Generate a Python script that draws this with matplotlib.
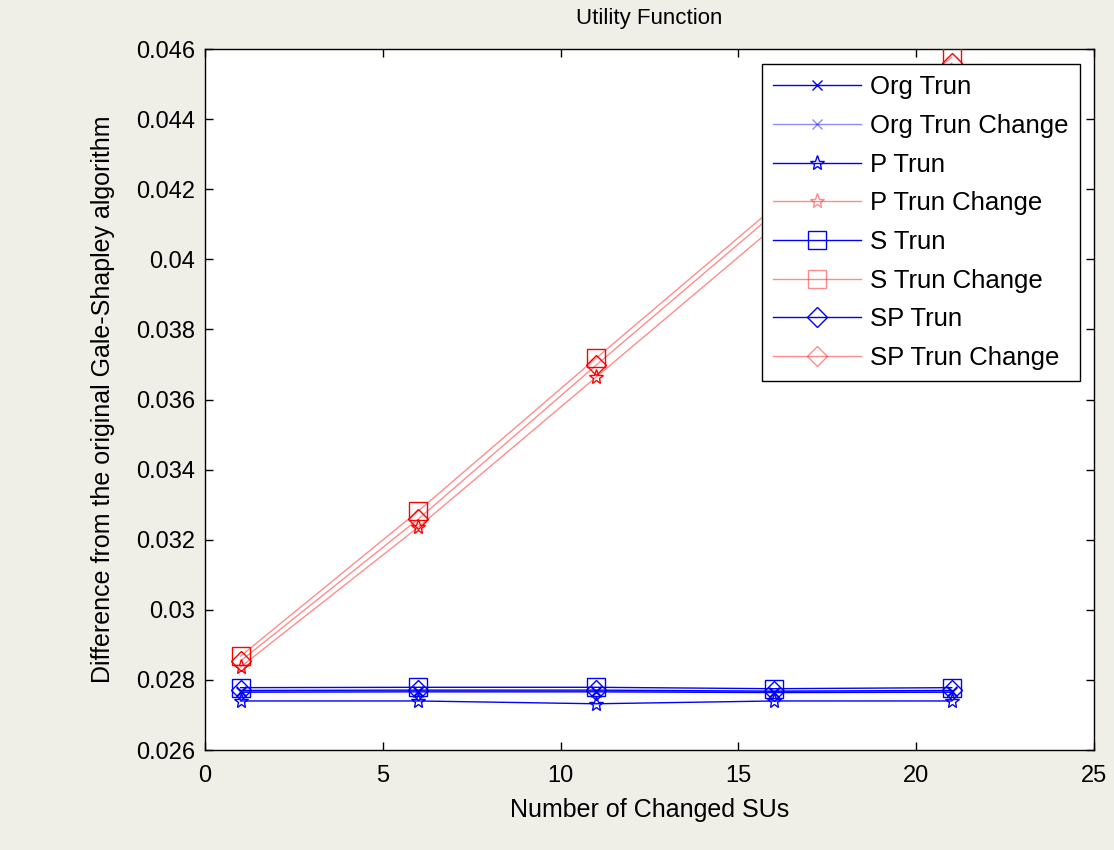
import matplotlib
matplotlib.use('Agg')
import matplotlib.pyplot as plt
from matplotlib.ticker import FuncFormatter
from matplotlib.lines import Line2D

# ---- data ----
x_sus = [1, 6, 11, 16, 21]

org_trun        = [0.02765, 0.02766, 0.02766, 0.02764, 0.02765]
org_trun_change = [0.02768, 0.02769, 0.02768, 0.02767, 0.02768]
p_trun          = [0.02740, 0.02740, 0.02732, 0.02740, 0.02740]
p_trun_change   = [0.02837, 0.03236, 0.03664, 0.04092, 0.04530]
s_trun          = [0.02778, 0.02779, 0.02779, 0.02775, 0.02778]
s_trun_change   = [0.02868, 0.03282, 0.03718, 0.04148, 0.04577]
sp_trun         = [0.02770, 0.02771, 0.02771, 0.02768, 0.02770]
sp_trun_change  = [0.02854, 0.03259, 0.03698, 0.04130, 0.04560]

series = [
    ("Org Trun",        org_trun,        'blue', 'x', 7,  False),
    ("Org Trun Change", org_trun_change, 'blue', 'x', 7,  True),
    ("P Trun",          p_trun,          'blue', '*', 11, False),
    ("P Trun Change",   p_trun_change,   'red',  '*', 11, True),
    ("S Trun",          s_trun,          'blue', 's', 13, False),
    ("S Trun Change",   s_trun_change,   'red',  's', 13, True),
    ("SP Trun",         sp_trun,         'blue', 'D', 10, False),
    ("SP Trun Change",  sp_trun_change,  'red',  'D', 10, True),
]

plt.rcParams['font.family'] = ['Liberation Sans', 'DejaVu Sans']

fig = plt.figure(figsize=(11.14, 8.5), dpi=100, facecolor='#efefe7')
ax = fig.add_axes([0.184, 0.1176, 0.798, 0.8247])
ax.set_facecolor('white')

for name, vals, col, mk, ms, change in series:
    # "Change" runs drawn with a lighter line, like the reference
    line_alpha = 0.45 if change else 1.0
    ax.plot(x_sus, vals, color=col, lw=1.0, alpha=line_alpha, zorder=2)
    ax.plot(x_sus, vals, linestyle='none', marker=mk, markersize=ms,
            markerfacecolor='none', markeredgecolor=col, markeredgewidth=1.0,
            zorder=3)

# legend handles: line + hollow marker
handles = []
for name, vals, col, mk, ms, change in series:
    h = Line2D([0], [0], color=col, lw=1.0, marker=mk, markersize=ms,
               markerfacecolor='none', markeredgecolor=col,
               markeredgewidth=1.0)
    handles.append(h)

leg = ax.legend(handles, [s[0] for s in series], loc='upper right',
                bbox_to_anchor=(0.984, 0.979), fontsize=18.5, frameon=True,
                fancybox=False, shadow=False, framealpha=1.0,
                edgecolor='black', handlelength=3.4, handletextpad=0.35,
                labelspacing=0.57, borderpad=0.45, borderaxespad=0.0)
leg.get_frame().set_linewidth(1.0)
leg.set_zorder(10)
for h, s in zip(leg.get_lines(), series):
    if s[5]:
        h.set_alpha(0.45)

ax.set_xlim(0, 25)
ax.set_ylim(0.026, 0.046)
ax.set_xticks([0, 5, 10, 15, 20, 25])
ax.set_yticks([0.026 + 0.002 * i for i in range(11)])
ax.yaxis.set_major_formatter(FuncFormatter(lambda v, p: '%g' % round(v, 3)))
ax.tick_params(direction='in', length=6, width=1, labelsize=17,
               top=True, right=True)
ax.tick_params(axis='x', pad=11)
ax.tick_params(axis='y', pad=7)
for sp in ax.spines.values():
    sp.set_linewidth(1.0)

ax.set_title('Utility Function', fontsize=16, pad=18)
ax.set_xlabel('Number of Changed SUs', fontsize=18, labelpad=8)
ax.set_ylabel('Difference from the original Gale-Shapley algorithm',
              fontsize=18, labelpad=15)

fig.savefig('out.png', dpi=100, facecolor=fig.get_facecolor())
